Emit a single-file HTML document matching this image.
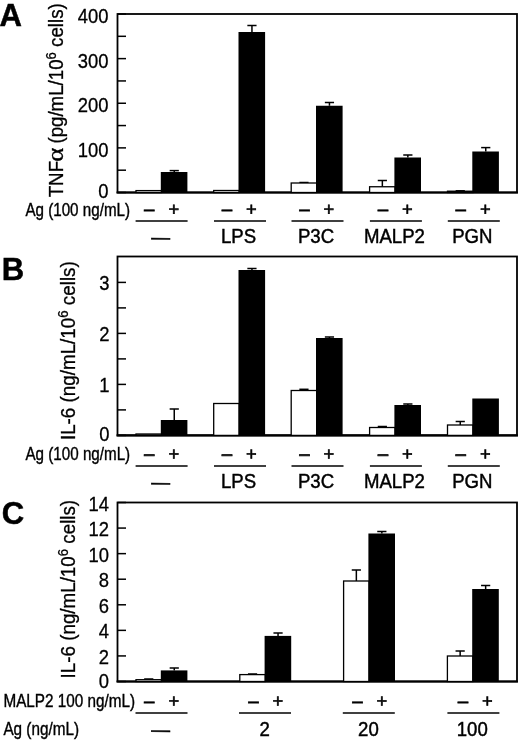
<!DOCTYPE html><html><head><meta charset="utf-8"><title>Figure</title><style>html,body{margin:0;padding:0;background:#fff}svg{display:block}</style></head><body><svg width="520" height="745" viewBox="0 0 520 745" font-family="Liberation Sans, sans-serif" fill="#000">
<rect width="520" height="745" fill="#fff"/>
<text transform="translate(-0.60,25.60) scale(0.98,1)" font-size="31.7" text-anchor="start" font-weight="bold" stroke="#000" stroke-width="0.5" >A</text>
<rect x="117.5" y="14" width="399.5" height="178.5" fill="none" stroke="#000" stroke-width="1.8"/>
<line x1="116.55" y1="192.50" x2="517.95" y2="192.50" stroke="#000" stroke-width="2.1"/>
<line x1="117.50" y1="192.50" x2="126.00" y2="192.50" stroke="#000" stroke-width="1.5"/>
<line x1="117.50" y1="170.19" x2="126.00" y2="170.19" stroke="#000" stroke-width="1.5"/>
<line x1="117.50" y1="147.88" x2="126.00" y2="147.88" stroke="#000" stroke-width="1.5"/>
<line x1="117.50" y1="125.56" x2="126.00" y2="125.56" stroke="#000" stroke-width="1.5"/>
<line x1="117.50" y1="103.25" x2="126.00" y2="103.25" stroke="#000" stroke-width="1.5"/>
<line x1="117.50" y1="80.94" x2="126.00" y2="80.94" stroke="#000" stroke-width="1.5"/>
<line x1="117.50" y1="58.62" x2="126.00" y2="58.62" stroke="#000" stroke-width="1.5"/>
<line x1="117.50" y1="36.31" x2="126.00" y2="36.31" stroke="#000" stroke-width="1.5"/>
<line x1="117.50" y1="14.00" x2="126.00" y2="14.00" stroke="#000" stroke-width="1.5"/>
<text transform="translate(108.40,197.90) scale(0.89,1)" font-size="20.7" text-anchor="end" font-weight="normal" stroke="#000" stroke-width="0.3" >0</text>
<text transform="translate(108.40,156.88) scale(0.89,1)" font-size="20.7" text-anchor="end" font-weight="normal" stroke="#000" stroke-width="0.3" >100</text>
<text transform="translate(108.40,112.25) scale(0.89,1)" font-size="20.7" text-anchor="end" font-weight="normal" stroke="#000" stroke-width="0.3" >200</text>
<text transform="translate(108.40,67.62) scale(0.89,1)" font-size="20.7" text-anchor="end" font-weight="normal" stroke="#000" stroke-width="0.3" >300</text>
<text transform="translate(108.40,23.00) scale(0.89,1)" font-size="20.7" text-anchor="end" font-weight="normal" stroke="#000" stroke-width="0.3" >400</text>
<text transform="translate(63,197.3) rotate(-90) scale(0.935,1)" font-size="20" stroke="#000" stroke-width="0.3">TNF</text><text transform="translate(63,161.8) rotate(-90) scale(1.12,1)" font-family="Liberation Serif, serif" font-size="24" stroke="#000" stroke-width="0.3">α</text><text transform="translate(63,143.6) rotate(-90) scale(0.935,1)" font-size="20" stroke="#000" stroke-width="0.3">(pg/mL/10<tspan dy="-7" font-size="14">6</tspan><tspan dy="7"> cells)</tspan></text>
<rect x="136.00" y="190.60" width="25.50" height="1.90" fill="#fff" stroke="#000" stroke-width="1.3"/>
<line x1="174.25" y1="172.00" x2="174.25" y2="170.60" stroke="#000" stroke-width="1.5"/>
<line x1="169.65" y1="170.60" x2="178.85" y2="170.60" stroke="#000" stroke-width="1.5"/>
<rect x="160.80" y="172.00" width="26.60" height="20.50" fill="#000"/>
<text transform="translate(144.08,215.34) rotate(0.03) scale(1.0,1)" font-size="18.8" text-anchor="start" font-weight="normal" stroke="#000" stroke-width="0.55" >–</text>
<text transform="translate(168.39,215.30) rotate(0.03) scale(1.0,1)" font-size="18.3" text-anchor="start" font-weight="normal" stroke="#000" stroke-width="0.58" >+</text>
<line x1="135.60" y1="221.00" x2="187.60" y2="221.00" stroke="#000" stroke-width="1.6"/>
<text transform="translate(151.20,243.59) rotate(0.03) scale(1.0,1)" font-size="18.8" text-anchor="start" font-weight="normal" stroke="#000" stroke-width="0.5" >—</text>
<rect x="213.70" y="190.50" width="25.50" height="2.00" fill="#fff" stroke="#000" stroke-width="1.3"/>
<line x1="251.95" y1="32.00" x2="251.95" y2="25.50" stroke="#000" stroke-width="1.5"/>
<line x1="247.35" y1="25.50" x2="256.55" y2="25.50" stroke="#000" stroke-width="1.5"/>
<rect x="238.50" y="32.00" width="26.60" height="160.50" fill="#000"/>
<text transform="translate(221.78,215.34) rotate(0.03) scale(1.0,1)" font-size="18.8" text-anchor="start" font-weight="normal" stroke="#000" stroke-width="0.55" >–</text>
<text transform="translate(246.09,215.30) rotate(0.03) scale(1.0,1)" font-size="18.3" text-anchor="start" font-weight="normal" stroke="#000" stroke-width="0.58" >+</text>
<line x1="214.00" y1="221.00" x2="266.00" y2="221.00" stroke="#000" stroke-width="1.6"/>
<text transform="translate(238.50,242.90) scale(0.95,1)" font-size="19.6" text-anchor="middle" font-weight="normal" stroke="#000" stroke-width="0.45" >LPS</text>
<line x1="303.95" y1="183.00" x2="303.95" y2="182.50" stroke="#000" stroke-width="1.5"/>
<line x1="299.35" y1="182.50" x2="308.55" y2="182.50" stroke="#000" stroke-width="1.5"/>
<rect x="291.20" y="183.00" width="25.50" height="9.50" fill="#fff" stroke="#000" stroke-width="1.3"/>
<line x1="329.45" y1="105.75" x2="329.45" y2="102.50" stroke="#000" stroke-width="1.5"/>
<line x1="324.85" y1="102.50" x2="334.05" y2="102.50" stroke="#000" stroke-width="1.5"/>
<rect x="316.00" y="105.75" width="26.60" height="86.75" fill="#000"/>
<text transform="translate(299.28,215.34) rotate(0.03) scale(1.0,1)" font-size="18.8" text-anchor="start" font-weight="normal" stroke="#000" stroke-width="0.55" >–</text>
<text transform="translate(323.59,215.30) rotate(0.03) scale(1.0,1)" font-size="18.3" text-anchor="start" font-weight="normal" stroke="#000" stroke-width="0.58" >+</text>
<line x1="291.50" y1="221.00" x2="343.50" y2="221.00" stroke="#000" stroke-width="1.6"/>
<text transform="translate(316.00,242.90) scale(0.95,1)" font-size="19.6" text-anchor="middle" font-weight="normal" stroke="#000" stroke-width="0.45" >P3C</text>
<line x1="382.35" y1="186.75" x2="382.35" y2="180.50" stroke="#000" stroke-width="1.5"/>
<line x1="377.75" y1="180.50" x2="386.95" y2="180.50" stroke="#000" stroke-width="1.5"/>
<rect x="369.60" y="186.75" width="25.50" height="5.75" fill="#fff" stroke="#000" stroke-width="1.3"/>
<line x1="407.85" y1="157.50" x2="407.85" y2="155.00" stroke="#000" stroke-width="1.5"/>
<line x1="403.25" y1="155.00" x2="412.45" y2="155.00" stroke="#000" stroke-width="1.5"/>
<rect x="394.40" y="157.50" width="26.60" height="35.00" fill="#000"/>
<text transform="translate(377.68,215.34) rotate(0.03) scale(1.0,1)" font-size="18.8" text-anchor="start" font-weight="normal" stroke="#000" stroke-width="0.55" >–</text>
<text transform="translate(401.99,215.30) rotate(0.03) scale(1.0,1)" font-size="18.3" text-anchor="start" font-weight="normal" stroke="#000" stroke-width="0.58" >+</text>
<line x1="369.90" y1="221.00" x2="421.90" y2="221.00" stroke="#000" stroke-width="1.6"/>
<text transform="translate(394.40,242.90) scale(0.95,1)" font-size="19.6" text-anchor="middle" font-weight="normal" stroke="#000" stroke-width="0.45" >MALP2</text>
<line x1="460.25" y1="191.20" x2="460.25" y2="190.80" stroke="#000" stroke-width="1.5"/>
<line x1="455.65" y1="190.80" x2="464.85" y2="190.80" stroke="#000" stroke-width="1.5"/>
<rect x="447.50" y="191.20" width="25.50" height="1.30" fill="#fff" stroke="#000" stroke-width="1.3"/>
<line x1="485.75" y1="151.50" x2="485.75" y2="147.60" stroke="#000" stroke-width="1.5"/>
<line x1="481.15" y1="147.60" x2="490.35" y2="147.60" stroke="#000" stroke-width="1.5"/>
<rect x="472.30" y="151.50" width="26.60" height="41.00" fill="#000"/>
<text transform="translate(455.58,215.34) rotate(0.03) scale(1.0,1)" font-size="18.8" text-anchor="start" font-weight="normal" stroke="#000" stroke-width="0.55" >–</text>
<text transform="translate(479.89,215.30) rotate(0.03) scale(1.0,1)" font-size="18.3" text-anchor="start" font-weight="normal" stroke="#000" stroke-width="0.58" >+</text>
<line x1="447.80" y1="221.00" x2="499.80" y2="221.00" stroke="#000" stroke-width="1.6"/>
<text transform="translate(472.30,242.90) scale(0.95,1)" font-size="19.6" text-anchor="middle" font-weight="normal" stroke="#000" stroke-width="0.45" >PGN</text>
<text transform="translate(25.40,216.00) scale(0.808,1)" font-size="18.8" text-anchor="start" font-weight="normal" stroke="#000" stroke-width="0.4" >Ag (100 ng/mL)</text>
<text transform="translate(1.80,279.90) scale(0.98,1)" font-size="31.7" text-anchor="start" font-weight="bold" stroke="#000" stroke-width="0.5" >B</text>
<rect x="117.5" y="256.5" width="399.5" height="178.89999999999998" fill="none" stroke="#000" stroke-width="1.8"/>
<line x1="116.55" y1="435.40" x2="517.95" y2="435.40" stroke="#000" stroke-width="2.1"/>
<line x1="117.50" y1="435.40" x2="126.00" y2="435.40" stroke="#000" stroke-width="1.5"/>
<line x1="117.50" y1="409.90" x2="126.00" y2="409.90" stroke="#000" stroke-width="1.5"/>
<line x1="117.50" y1="384.40" x2="126.00" y2="384.40" stroke="#000" stroke-width="1.5"/>
<line x1="117.50" y1="358.90" x2="126.00" y2="358.90" stroke="#000" stroke-width="1.5"/>
<line x1="117.50" y1="333.40" x2="126.00" y2="333.40" stroke="#000" stroke-width="1.5"/>
<line x1="117.50" y1="307.90" x2="126.00" y2="307.90" stroke="#000" stroke-width="1.5"/>
<line x1="117.50" y1="282.40" x2="126.00" y2="282.40" stroke="#000" stroke-width="1.5"/>
<text transform="translate(109.40,440.60) scale(0.89,1)" font-size="20.7" text-anchor="end" font-weight="normal" stroke="#000" stroke-width="0.3" >0</text>
<text transform="translate(109.40,392.30) scale(0.89,1)" font-size="20.7" text-anchor="end" font-weight="normal" stroke="#000" stroke-width="0.3" >1</text>
<text transform="translate(109.40,341.30) scale(0.89,1)" font-size="20.7" text-anchor="end" font-weight="normal" stroke="#000" stroke-width="0.3" >2</text>
<text transform="translate(109.40,290.30) scale(0.89,1)" font-size="20.7" text-anchor="end" font-weight="normal" stroke="#000" stroke-width="0.3" >3</text>
<text transform="translate(75,440.1) rotate(-90) scale(0.942,1)" font-size="20" stroke="#000" stroke-width="0.3">IL-6 (ng/mL/10<tspan dy="-7" font-size="14">6</tspan><tspan dy="7"> cells)</tspan></text>
<rect x="136.00" y="434.00" width="25.50" height="1.40" fill="#fff" stroke="#000" stroke-width="1.3"/>
<line x1="174.25" y1="420.00" x2="174.25" y2="409.00" stroke="#000" stroke-width="1.5"/>
<line x1="169.65" y1="409.00" x2="178.85" y2="409.00" stroke="#000" stroke-width="1.5"/>
<rect x="160.80" y="420.00" width="26.60" height="15.40" fill="#000"/>
<text transform="translate(144.08,459.94) rotate(0.03) scale(1.0,1)" font-size="18.8" text-anchor="start" font-weight="normal" stroke="#000" stroke-width="0.55" >–</text>
<text transform="translate(168.39,459.90) rotate(0.03) scale(1.0,1)" font-size="18.3" text-anchor="start" font-weight="normal" stroke="#000" stroke-width="0.58" >+</text>
<line x1="135.60" y1="466.00" x2="187.60" y2="466.00" stroke="#000" stroke-width="1.6"/>
<text transform="translate(151.20,488.49) rotate(0.03) scale(1.0,1)" font-size="18.8" text-anchor="start" font-weight="normal" stroke="#000" stroke-width="0.5" >—</text>
<rect x="213.70" y="403.50" width="25.50" height="31.90" fill="#fff" stroke="#000" stroke-width="1.3"/>
<line x1="251.95" y1="270.00" x2="251.95" y2="268.50" stroke="#000" stroke-width="1.5"/>
<line x1="247.35" y1="268.50" x2="256.55" y2="268.50" stroke="#000" stroke-width="1.5"/>
<rect x="238.50" y="270.00" width="26.60" height="165.40" fill="#000"/>
<text transform="translate(221.78,459.94) rotate(0.03) scale(1.0,1)" font-size="18.8" text-anchor="start" font-weight="normal" stroke="#000" stroke-width="0.55" >–</text>
<text transform="translate(246.09,459.90) rotate(0.03) scale(1.0,1)" font-size="18.3" text-anchor="start" font-weight="normal" stroke="#000" stroke-width="0.58" >+</text>
<line x1="214.00" y1="466.00" x2="266.00" y2="466.00" stroke="#000" stroke-width="1.6"/>
<text transform="translate(238.50,488.00) scale(0.95,1)" font-size="19.6" text-anchor="middle" font-weight="normal" stroke="#000" stroke-width="0.45" >LPS</text>
<line x1="303.95" y1="390.50" x2="303.95" y2="389.30" stroke="#000" stroke-width="1.5"/>
<line x1="299.35" y1="389.30" x2="308.55" y2="389.30" stroke="#000" stroke-width="1.5"/>
<rect x="291.20" y="390.50" width="25.50" height="44.90" fill="#fff" stroke="#000" stroke-width="1.3"/>
<line x1="329.45" y1="338.00" x2="329.45" y2="337.00" stroke="#000" stroke-width="1.5"/>
<line x1="324.85" y1="337.00" x2="334.05" y2="337.00" stroke="#000" stroke-width="1.5"/>
<rect x="316.00" y="338.00" width="26.60" height="97.40" fill="#000"/>
<text transform="translate(299.28,459.94) rotate(0.03) scale(1.0,1)" font-size="18.8" text-anchor="start" font-weight="normal" stroke="#000" stroke-width="0.55" >–</text>
<text transform="translate(323.59,459.90) rotate(0.03) scale(1.0,1)" font-size="18.3" text-anchor="start" font-weight="normal" stroke="#000" stroke-width="0.58" >+</text>
<line x1="291.50" y1="466.00" x2="343.50" y2="466.00" stroke="#000" stroke-width="1.6"/>
<text transform="translate(316.00,488.00) scale(0.95,1)" font-size="19.6" text-anchor="middle" font-weight="normal" stroke="#000" stroke-width="0.45" >P3C</text>
<line x1="382.35" y1="427.50" x2="382.35" y2="426.50" stroke="#000" stroke-width="1.5"/>
<line x1="377.75" y1="426.50" x2="386.95" y2="426.50" stroke="#000" stroke-width="1.5"/>
<rect x="369.60" y="427.50" width="25.50" height="7.90" fill="#fff" stroke="#000" stroke-width="1.3"/>
<line x1="407.85" y1="405.00" x2="407.85" y2="404.00" stroke="#000" stroke-width="1.5"/>
<line x1="403.25" y1="404.00" x2="412.45" y2="404.00" stroke="#000" stroke-width="1.5"/>
<rect x="394.40" y="405.00" width="26.60" height="30.40" fill="#000"/>
<text transform="translate(377.68,459.94) rotate(0.03) scale(1.0,1)" font-size="18.8" text-anchor="start" font-weight="normal" stroke="#000" stroke-width="0.55" >–</text>
<text transform="translate(401.99,459.90) rotate(0.03) scale(1.0,1)" font-size="18.3" text-anchor="start" font-weight="normal" stroke="#000" stroke-width="0.58" >+</text>
<line x1="369.90" y1="466.00" x2="421.90" y2="466.00" stroke="#000" stroke-width="1.6"/>
<text transform="translate(394.40,488.00) scale(0.95,1)" font-size="19.6" text-anchor="middle" font-weight="normal" stroke="#000" stroke-width="0.45" >MALP2</text>
<line x1="460.25" y1="425.00" x2="460.25" y2="421.50" stroke="#000" stroke-width="1.5"/>
<line x1="455.65" y1="421.50" x2="464.85" y2="421.50" stroke="#000" stroke-width="1.5"/>
<rect x="447.50" y="425.00" width="25.50" height="10.40" fill="#fff" stroke="#000" stroke-width="1.3"/>
<rect x="472.30" y="398.50" width="26.60" height="36.90" fill="#000"/>
<text transform="translate(455.58,459.94) rotate(0.03) scale(1.0,1)" font-size="18.8" text-anchor="start" font-weight="normal" stroke="#000" stroke-width="0.55" >–</text>
<text transform="translate(479.89,459.90) rotate(0.03) scale(1.0,1)" font-size="18.3" text-anchor="start" font-weight="normal" stroke="#000" stroke-width="0.58" >+</text>
<line x1="447.80" y1="466.00" x2="499.80" y2="466.00" stroke="#000" stroke-width="1.6"/>
<text transform="translate(472.30,488.00) scale(0.95,1)" font-size="19.6" text-anchor="middle" font-weight="normal" stroke="#000" stroke-width="0.45" >PGN</text>
<text transform="translate(25.50,460.40) scale(0.808,1)" font-size="18.8" text-anchor="start" font-weight="normal" stroke="#000" stroke-width="0.4" >Ag (100 ng/mL)</text>
<text transform="translate(1.80,523.70) scale(0.98,1)" font-size="31.7" text-anchor="start" font-weight="bold" stroke="#000" stroke-width="0.5" >C</text>
<rect x="117.5" y="502.5" width="399.5" height="179.0" fill="none" stroke="#000" stroke-width="1.8"/>
<line x1="116.55" y1="681.50" x2="517.95" y2="681.50" stroke="#000" stroke-width="2.1"/>
<line x1="117.50" y1="681.50" x2="126.00" y2="681.50" stroke="#000" stroke-width="1.5"/>
<line x1="117.50" y1="655.93" x2="126.00" y2="655.93" stroke="#000" stroke-width="1.5"/>
<line x1="117.50" y1="630.36" x2="126.00" y2="630.36" stroke="#000" stroke-width="1.5"/>
<line x1="117.50" y1="604.79" x2="126.00" y2="604.79" stroke="#000" stroke-width="1.5"/>
<line x1="117.50" y1="579.21" x2="126.00" y2="579.21" stroke="#000" stroke-width="1.5"/>
<line x1="117.50" y1="553.64" x2="126.00" y2="553.64" stroke="#000" stroke-width="1.5"/>
<line x1="117.50" y1="528.07" x2="126.00" y2="528.07" stroke="#000" stroke-width="1.5"/>
<line x1="117.50" y1="502.50" x2="126.00" y2="502.50" stroke="#000" stroke-width="1.5"/>
<text transform="translate(108.90,688.10) scale(0.89,1)" font-size="20.7" text-anchor="end" font-weight="normal" stroke="#000" stroke-width="0.3" >0</text>
<text transform="translate(108.90,663.93) scale(0.89,1)" font-size="20.7" text-anchor="end" font-weight="normal" stroke="#000" stroke-width="0.3" >2</text>
<text transform="translate(108.90,638.36) scale(0.89,1)" font-size="20.7" text-anchor="end" font-weight="normal" stroke="#000" stroke-width="0.3" >4</text>
<text transform="translate(108.90,612.79) scale(0.89,1)" font-size="20.7" text-anchor="end" font-weight="normal" stroke="#000" stroke-width="0.3" >6</text>
<text transform="translate(108.90,587.21) scale(0.89,1)" font-size="20.7" text-anchor="end" font-weight="normal" stroke="#000" stroke-width="0.3" >8</text>
<text transform="translate(108.90,561.64) scale(0.89,1)" font-size="20.7" text-anchor="end" font-weight="normal" stroke="#000" stroke-width="0.3" >10</text>
<text transform="translate(108.90,536.07) scale(0.89,1)" font-size="20.7" text-anchor="end" font-weight="normal" stroke="#000" stroke-width="0.3" >12</text>
<text transform="translate(108.90,510.50) scale(0.89,1)" font-size="20.7" text-anchor="end" font-weight="normal" stroke="#000" stroke-width="0.3" >14</text>
<text transform="translate(75,678.4) rotate(-90) scale(0.94,1)" font-size="20" stroke="#000" stroke-width="0.3">IL-6 (ng/mL/10<tspan dy="-7" font-size="14">6</tspan><tspan dy="7"> cells)</tspan></text>
<line x1="148.75" y1="679.70" x2="148.75" y2="679.00" stroke="#000" stroke-width="1.5"/>
<line x1="144.15" y1="679.00" x2="153.35" y2="679.00" stroke="#000" stroke-width="1.5"/>
<rect x="136.00" y="679.70" width="25.50" height="1.80" fill="#fff" stroke="#000" stroke-width="1.3"/>
<line x1="174.25" y1="670.40" x2="174.25" y2="668.00" stroke="#000" stroke-width="1.5"/>
<line x1="169.65" y1="668.00" x2="178.85" y2="668.00" stroke="#000" stroke-width="1.5"/>
<rect x="160.80" y="670.40" width="26.60" height="11.10" fill="#000"/>
<text transform="translate(144.08,707.13) rotate(0.03) scale(1.0,1)" font-size="18.8" text-anchor="start" font-weight="normal" stroke="#000" stroke-width="0.55" >–</text>
<text transform="translate(168.39,707.11) rotate(0.03) scale(1.0,1)" font-size="18.3" text-anchor="start" font-weight="normal" stroke="#000" stroke-width="0.58" >+</text>
<line x1="135.50" y1="713.00" x2="187.50" y2="713.00" stroke="#000" stroke-width="1.6"/>
<text transform="translate(151.20,735.88) rotate(0.03) scale(1.0,1)" font-size="18.8" text-anchor="start" font-weight="normal" stroke="#000" stroke-width="0.5" >—</text>
<line x1="252.55" y1="674.60" x2="252.55" y2="674.00" stroke="#000" stroke-width="1.5"/>
<line x1="247.95" y1="674.00" x2="257.15" y2="674.00" stroke="#000" stroke-width="1.5"/>
<rect x="239.80" y="674.60" width="25.50" height="6.90" fill="#fff" stroke="#000" stroke-width="1.3"/>
<line x1="278.05" y1="635.90" x2="278.05" y2="633.00" stroke="#000" stroke-width="1.5"/>
<line x1="273.45" y1="633.00" x2="282.65" y2="633.00" stroke="#000" stroke-width="1.5"/>
<rect x="264.60" y="635.90" width="26.60" height="45.60" fill="#000"/>
<text transform="translate(248.18,707.13) rotate(0.03) scale(1.0,1)" font-size="18.8" text-anchor="start" font-weight="normal" stroke="#000" stroke-width="0.55" >–</text>
<text transform="translate(272.49,707.11) rotate(0.03) scale(1.0,1)" font-size="18.3" text-anchor="start" font-weight="normal" stroke="#000" stroke-width="0.58" >+</text>
<line x1="239.00" y1="713.00" x2="291.00" y2="713.00" stroke="#000" stroke-width="1.6"/>
<text transform="translate(264.60,735.90) scale(0.95,1)" font-size="19.6" text-anchor="middle" font-weight="normal" stroke="#000" stroke-width="0.45" >2</text>
<line x1="356.35" y1="581.00" x2="356.35" y2="570.00" stroke="#000" stroke-width="1.5"/>
<line x1="351.75" y1="570.00" x2="360.95" y2="570.00" stroke="#000" stroke-width="1.5"/>
<rect x="343.60" y="581.00" width="25.50" height="100.50" fill="#fff" stroke="#000" stroke-width="1.3"/>
<line x1="381.85" y1="533.50" x2="381.85" y2="531.50" stroke="#000" stroke-width="1.5"/>
<line x1="377.25" y1="531.50" x2="386.45" y2="531.50" stroke="#000" stroke-width="1.5"/>
<rect x="368.40" y="533.50" width="26.60" height="148.00" fill="#000"/>
<text transform="translate(352.18,707.13) rotate(0.03) scale(1.0,1)" font-size="18.8" text-anchor="start" font-weight="normal" stroke="#000" stroke-width="0.55" >–</text>
<text transform="translate(376.49,707.11) rotate(0.03) scale(1.0,1)" font-size="18.3" text-anchor="start" font-weight="normal" stroke="#000" stroke-width="0.58" >+</text>
<line x1="342.80" y1="713.00" x2="394.80" y2="713.00" stroke="#000" stroke-width="1.6"/>
<text transform="translate(368.40,735.90) scale(0.95,1)" font-size="19.6" text-anchor="middle" font-weight="normal" stroke="#000" stroke-width="0.45" >20</text>
<line x1="460.15" y1="656.00" x2="460.15" y2="651.00" stroke="#000" stroke-width="1.5"/>
<line x1="455.55" y1="651.00" x2="464.75" y2="651.00" stroke="#000" stroke-width="1.5"/>
<rect x="447.40" y="656.00" width="25.50" height="25.50" fill="#fff" stroke="#000" stroke-width="1.3"/>
<line x1="485.65" y1="589.00" x2="485.65" y2="585.50" stroke="#000" stroke-width="1.5"/>
<line x1="481.05" y1="585.50" x2="490.25" y2="585.50" stroke="#000" stroke-width="1.5"/>
<rect x="472.20" y="589.00" width="26.60" height="92.50" fill="#000"/>
<text transform="translate(457.78,707.13) rotate(0.03) scale(1.0,1)" font-size="18.8" text-anchor="start" font-weight="normal" stroke="#000" stroke-width="0.55" >–</text>
<text transform="translate(482.09,707.11) rotate(0.03) scale(1.0,1)" font-size="18.3" text-anchor="start" font-weight="normal" stroke="#000" stroke-width="0.58" >+</text>
<line x1="447.40" y1="713.00" x2="499.40" y2="713.00" stroke="#000" stroke-width="1.6"/>
<text transform="translate(472.20,735.90) scale(0.95,1)" font-size="19.6" text-anchor="middle" font-weight="normal" stroke="#000" stroke-width="0.45" >100</text>
<text transform="translate(3.40,707.30) scale(0.813,1)" font-size="18.8" text-anchor="start" font-weight="normal" stroke="#000" stroke-width="0.4" >MALP2 100 ng/mL)</text>
<text transform="translate(3.40,734.90) scale(0.813,1)" font-size="18.8" text-anchor="start" font-weight="normal" stroke="#000" stroke-width="0.4" >Ag (ng/mL)</text>
</svg></body></html>
